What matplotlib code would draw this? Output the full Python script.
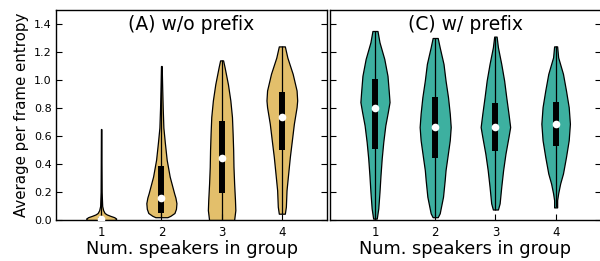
import matplotlib
matplotlib.use("Agg")
import matplotlib.pyplot as plt

positions = [1, 2, 3, 4]
tick_labels = ["1", "2", "3", "4"]
titles = ["(A) w/o prefix", "(C) w/ prefix"]
xlabel = "Num. speakers in group"
ylabel = "Average per frame entropy"

# Violin outlines: y levels and half-widths (in category units)
a1_y = [0.0, 0.01, 0.02, 0.03, 0.04, 0.05, 0.07, 0.10, 0.20, 0.40, 0.65]
a1_w = [0.233, 0.250, 0.217, 0.150, 0.092, 0.058, 0.033, 0.017, 0.008, 0.005, 0.002]
a2_y = [0.02, 0.03, 0.05, 0.08, 0.12, 0.16, 0.19, 0.25, 0.31, 0.37, 0.43, 0.55, 0.66, 0.80, 0.95, 1.10]
a2_w = [0.100, 0.150, 0.217, 0.242, 0.250, 0.233, 0.212, 0.175, 0.138, 0.113, 0.088, 0.058, 0.033, 0.022, 0.013, 0.005]
a3_y = [0.0, 0.07, 0.142, 0.26, 0.38, 0.498, 0.617, 0.735, 0.854, 0.97, 1.09, 1.14]
a3_w = [0.208, 0.228, 0.222, 0.208, 0.197, 0.192, 0.183, 0.172, 0.145, 0.105, 0.050, 0.025]
a4_y = [0.045, 0.095, 0.213, 0.33, 0.45, 0.57, 0.688, 0.806, 0.854, 0.925, 1.044, 1.16, 1.24]
a4_w = [0.050, 0.067, 0.078, 0.105, 0.133, 0.167, 0.200, 0.245, 0.255, 0.245, 0.180, 0.092, 0.050]

c1_y = [0.01, 0.083, 0.2, 0.32, 0.44, 0.557, 0.676, 0.77, 0.842, 0.913, 1.03, 1.15, 1.27, 1.35]
c1_w = [0.030, 0.055, 0.075, 0.092, 0.112, 0.138, 0.172, 0.213, 0.242, 0.230, 0.208, 0.155, 0.075, 0.042]
c2_y = [0.02, 0.048, 0.166, 0.285, 0.356, 0.45, 0.57, 0.664, 0.76, 0.877, 0.996, 1.115, 1.233, 1.30]
c2_w = [0.042, 0.075, 0.130, 0.158, 0.172, 0.203, 0.242, 0.258, 0.242, 0.213, 0.172, 0.138, 0.075, 0.042]
c3_y = [0.075, 0.119, 0.237, 0.356, 0.474, 0.593, 0.664, 0.76, 0.877, 0.996, 1.115, 1.233, 1.31]
c3_w = [0.042, 0.070, 0.097, 0.128, 0.167, 0.217, 0.245, 0.217, 0.180, 0.145, 0.097, 0.042, 0.020]
c4_y = [0.09, 0.142, 0.19, 0.26, 0.332, 0.45, 0.57, 0.688, 0.806, 0.925, 1.044, 1.162, 1.24]
c4_w = [0.025, 0.025, 0.042, 0.075, 0.122, 0.172, 0.217, 0.237, 0.217, 0.172, 0.122, 0.042, 0.025]

# Box statistics
a_median = [0.005, 0.16, 0.44, 0.735]
a_q1 = [0.0, 0.05, 0.195, 0.498]
a_q3 = [0.02, 0.385, 0.705, 0.913]
a_min = [0.0, 0.02, 0.0, 0.045]
a_max = [0.65, 1.10, 1.14, 1.24]

c_median = [0.80, 0.664, 0.662, 0.683]
c_q1 = [0.51, 0.44, 0.49, 0.528]
c_q3 = [1.008, 0.877, 0.837, 0.84]
c_min = [0.01, 0.02, 0.075, 0.09]
c_max = [1.35, 1.30, 1.31, 1.24]

gold = "#E3BF6B"
teal = "#3DB0A0"

panels = [
    ([(a1_y, a1_w), (a2_y, a2_w), (a3_y, a3_w), (a4_y, a4_w)], a_median, a_q1, a_q3, a_min, a_max, gold),
    ([(c1_y, c1_w), (c2_y, c2_w), (c3_y, c3_w), (c4_y, c4_w)], c_median, c_q1, c_q3, c_min, c_max, teal),
]

fig = plt.figure(figsize=(6, 2.61), dpi=100)
ax1 = fig.add_axes([56 / 600, 41 / 261, 271 / 600, 210 / 261])
ax2 = fig.add_axes([329.8 / 600, 41 / 261, 271 / 600, 210 / 261])
axes = [ax1, ax2]

for i, (ax, panel) in enumerate(zip(axes, panels)):
    profiles, med, q1, q3, mn, mx, color = panel
    vpstats = []
    widths = []
    for (ys, ws), m, lo, hi in zip(profiles, med, mn, mx):
        vpstats.append(dict(coords=ys, vals=ws, mean=m, median=m, min=lo, max=hi))
        widths.append(2 * max(ws))
    parts = ax.violin(vpstats, positions=positions, widths=widths,
                      showmeans=False, showextrema=False, showmedians=False)
    for body in parts["bodies"]:
        body.set_facecolor(color)
        body.set_edgecolor("black")
        body.set_linewidth(0.9)
        body.set_alpha(1)
    ax.vlines(positions, mn, mx, colors="black", linewidth=0.9, zorder=3)
    ax.vlines(positions, q1, q3, colors="black", linewidth=4.3, zorder=4)
    ax.plot(positions, med, "o", color="white", markersize=5.5,
            markeredgewidth=0, zorder=5)

    ax.set_xlim(0.25, 4.75)
    ax.set_ylim(0, 1.5)
    ax.set_xticks(positions)
    ax.set_xticklabels(tick_labels)
    ax.set_yticks([0.0, 0.2, 0.4, 0.6, 0.8, 1.0, 1.2, 1.4])
    ax.tick_params(axis="y", direction="in", left=True, right=True, length=4,
                   width=0.8, labelsize=8, pad=3)
    ax.tick_params(axis="x", direction="in", bottom=True, top=False, length=4,
                   width=0.8, labelsize=8.5, pad=4)
    for s in ax.spines.values():
        s.set_linewidth(1.0)
    ax.text(0.5, 0.93, titles[i], transform=ax.transAxes, ha="center",
            va="center", fontsize=13.5)
    ax.set_xlabel(xlabel, fontsize=12.8, labelpad=1)

ax1.set_yticklabels(["0.0", "0.2", "0.4", "0.6", "0.8", "1.0", "1.2", "1.4"])
ax1.set_ylabel(ylabel, fontsize=10.8, labelpad=4)
ax2.tick_params(axis="y", labelleft=False)

fig.savefig("out.png", dpi=100)
